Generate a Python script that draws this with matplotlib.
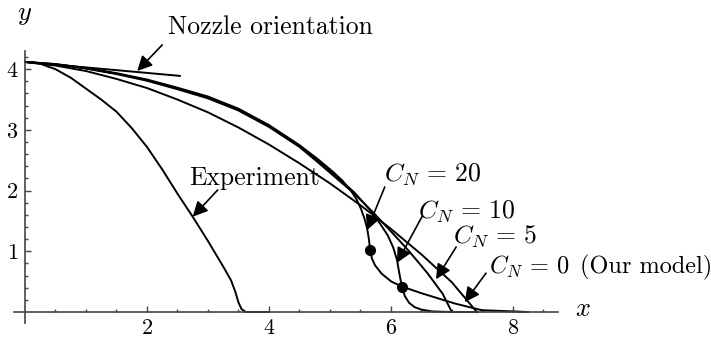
import matplotlib
matplotlib.use("Agg")
import matplotlib.pyplot as plt
from matplotlib.ticker import FixedLocator

plt.rcParams['font.family'] = 'serif'
plt.rcParams['font.serif'] = ['cmr10']
plt.rcParams['mathtext.fontset'] = 'cm'
plt.rcParams['axes.unicode_minus'] = False
plt.rcParams['axes.formatter.use_mathtext'] = True

# measured jet profile
exp_x = [0, 0.25, 0.5, 0.75, 1.0, 1.25, 1.5, 1.75, 2.0, 2.25, 2.5, 2.75, 3.0, 3.25, 3.38, 3.45, 3.5, 3.55, 3.62, 4.0]
exp_y = [4.12, 4.09, 4.00, 3.86, 3.68, 3.50, 3.30, 3.03, 2.72, 2.35, 1.95, 1.57, 1.17, 0.75, 0.52, 0.33, 0.16, 0.05, 0.0, 0.0]

# model, C_N = 0
cn0_x = [0, 0.5, 1.0, 1.5, 2.0, 2.5, 3.0, 3.5, 4.0, 4.5, 5.0, 5.5, 6.0, 6.5, 7.0, 7.41]
cn0_y = [4.12, 4.06, 3.97, 3.84, 3.69, 3.50, 3.29, 3.04, 2.76, 2.45, 2.12, 1.76, 1.37, 0.95, 0.49, 0.0]

# model, C_N = 5
cn5_x = [0, 0.5, 1.0, 1.5, 2.0, 2.5, 3.0, 3.5, 4.0, 4.5, 4.8, 5.1, 5.4, 5.7, 6.0, 6.3, 6.6, 6.85, 7.0, 7.43]
cn5_y = [4.12, 4.08, 4.01, 3.92, 3.81, 3.67, 3.52, 3.32, 3.05, 2.72, 2.47, 2.21, 1.95, 1.65, 1.33, 1.0, 0.64, 0.30, 0.0, 0.0]

# model, C_N = 10
cn10_x = [0, 0.5, 1.0, 1.5, 2.0, 2.5, 3.0, 3.5, 4.0, 4.5, 4.8, 5.1, 5.4, 5.66, 5.82, 5.95, 6.04, 6.1, 6.14, 6.18,
          6.23, 6.3, 6.39, 6.5, 6.67, 7.0]
cn10_y = [4.12, 4.082, 4.015, 3.927, 3.82, 3.683, 3.535, 3.335, 3.065, 2.735, 2.49, 2.24, 1.97, 1.68, 1.46, 1.26, 1.06, 0.86,
          0.63, 0.42, 0.26, 0.15, 0.08, 0.04, 0.01, 0.0]

# model, C_N = 20
cn20_x = [0, 0.5, 1.0, 1.5, 2.0, 2.5, 3.0, 3.5, 4.0, 4.5, 4.8, 5.05, 5.2, 5.33, 5.43, 5.51, 5.57, 5.61, 5.64, 5.66,
          5.69, 5.74, 5.85, 6.01, 6.18, 6.5, 7.05, 7.49, 8.0, 8.25]
cn20_y = [4.12, 4.085, 4.02, 3.935, 3.83, 3.695, 3.55, 3.35, 3.08, 2.75, 2.52, 2.31, 2.17, 2.02, 1.87, 1.70, 1.53, 1.38, 1.2, 1.02,
          0.88, 0.77, 0.63, 0.50, 0.42, 0.31, 0.14, 0.03, 0.01, 0.0]

# marked points on the C_N = 20 and C_N = 10 curves
dot_x = [5.66, 6.18]
dot_y = [1.02, 0.42]

# nozzle direction
nozzle_x = [0, 2.54]
nozzle_y = [4.12, 3.89]

x_major = [2, 4, 6, 8]
x_minor = [0.5, 1, 1.5, 2.5, 3, 3.5, 4.5, 5, 5.5, 6.5, 7, 7.5, 8.5]
y_major = [1, 2, 3, 4]
y_minor = [0.2, 0.4, 0.6, 0.8, 1.2, 1.4, 1.6, 1.8, 2.2, 2.4, 2.6, 2.8, 3.2, 3.4, 3.6, 3.8, 4.2]

fig = plt.figure(figsize=(7.11, 3.40), dpi=100)
ax = fig.add_axes([0, 0, 1, 1])
ax.set_xlim(-0.41, 11.25)
ax.set_ylim(-0.461, 5.14)

lw = 1.4
ax.plot(exp_x, exp_y, color='k', lw=lw)
ax.plot(cn0_x, cn0_y, color='k', lw=lw)
ax.plot(cn5_x, cn5_y, color='k', lw=lw)
ax.plot(cn10_x, cn10_y, color='k', lw=lw)
ax.plot(cn20_x, cn20_y, color='k', lw=lw)
ax.plot(nozzle_x, nozzle_y, color='k', lw=lw)
ax.plot(dot_x, dot_y, 'o', color='k', ms=7)

# axes through the origin, Mathematica style
for s in ['top', 'right']:
    ax.spines[s].set_visible(False)
ax.spines['left'].set_position(('data', 0))
ax.spines['bottom'].set_position(('data', 0))
ax.spines['left'].set_bounds(-0.18, 4.3)
ax.spines['bottom'].set_bounds(-0.18, 8.74)
for s in ['left', 'bottom']:
    ax.spines[s].set_color('#444444')
    ax.spines[s].set_linewidth(1.2)

ax.set_xticks(x_major)
ax.set_yticks(y_major)
ax.xaxis.set_minor_locator(FixedLocator(x_minor))
ax.yaxis.set_minor_locator(FixedLocator(y_minor))
ax.tick_params(which='both', direction='in', color='#444444', width=1.0)
ax.tick_params(which='major', length=4, labelsize=16)
ax.tick_params(axis='x', which='major', pad=5)
ax.tick_params(axis='y', which='major', pad=5)
ax.tick_params(which='minor', length=2.2)

ax.text(9.15, 0.05, '$x$', fontsize=19, ha='center', va='center')
ax.text(0.0, 4.89, '$y$', fontsize=19, ha='center', va='center')

fs = 18.5
arrow = dict(arrowstyle='-|>,head_length=0.6,head_width=0.3', mutation_scale=15,
             color='k', lw=1.2, shrinkA=0, shrinkB=0)

labels = [
    ('Nozzle orientation', 2.34, 4.70, fs, (2.25, 4.40), (1.84, 3.97)),
    ('Experiment', 2.70, 2.21, fs, (3.16, 2.01), (2.75, 1.57)),
    (r'$C_N\,=\,20$', 5.89, 2.26, fs, (5.90, 2.06), (5.61, 1.35)),
    (r'$C_N\,=\,10$', 6.44, 1.65, fs, (6.51, 1.57), (6.10, 0.81)),
    (r'$C_N\,=\,5$', 7.02, 1.24, fs, (7.07, 1.07), (6.74, 0.54)),
    (r'$C_N\,=\,0$', 7.61, 0.74, 17.5, (7.56, 0.64), (7.21, 0.16)),
]
for txt, tx, ty, size, tail, head in labels:
    ax.text(tx, ty, txt, fontsize=size, ha='left', va='center')
    ax.annotate('', xy=head, xytext=tail, arrowprops=arrow)

ax.text(9.1, 0.74, '(Our model)', fontsize=17.5, ha='left', va='center')

fig.savefig('out.png', dpi=100)
